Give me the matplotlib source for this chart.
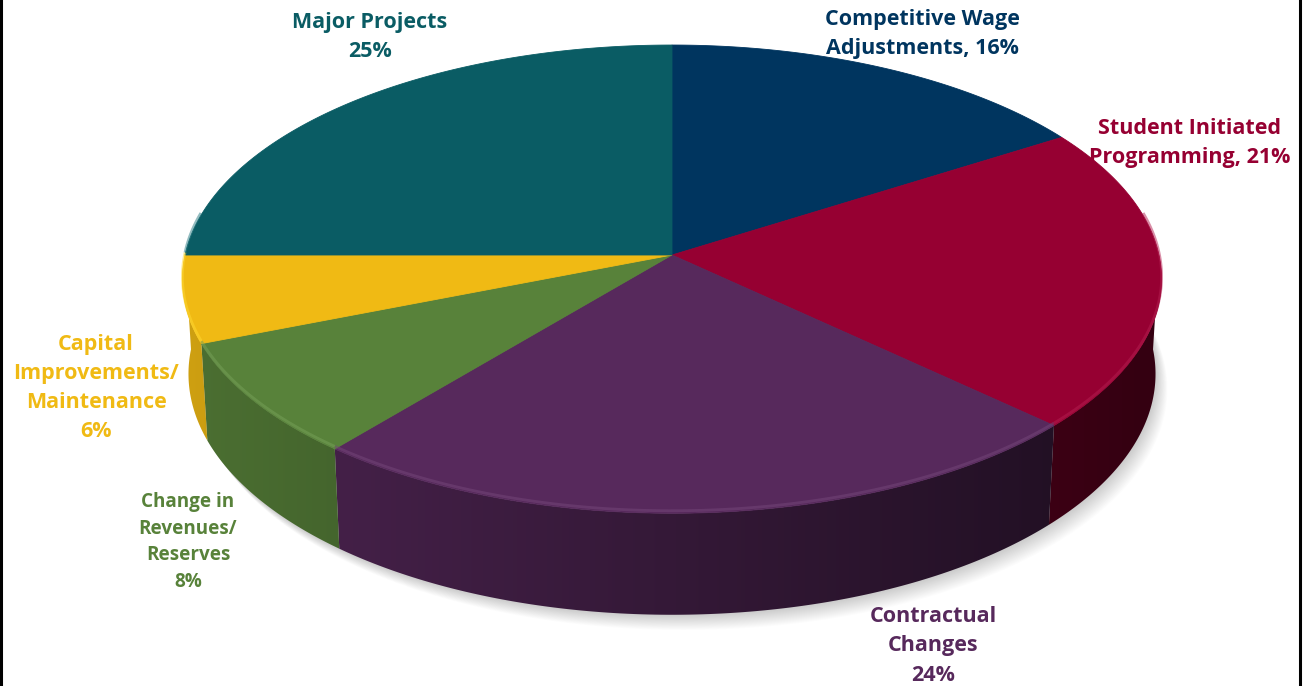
"""
3D pie chart - budget allocation breakdown
"""
import numpy as np
import matplotlib.pyplot as plt
from matplotlib.patches import Polygon
from matplotlib.colors import to_rgb

plt.rcParams['font.family'] = ['Open Sans', 'DejaVu Sans']

# data (clockwise from 12 o'clock)
labels = ['Competitive Wage\nAdjustments, 16%',
          'Student Initiated\nProgramming, 21%',
          'Contractual\nChanges\n24%',
          'Change in\nRevenues/\nReserves\n8%',
          'Capital\nImprovements/\nMaintenance\n6%',
          'Major Projects\n25%']
values = [16, 21, 24, 8, 6, 25]
colors = ['#00355F', '#960032', '#57295C', '#58823A', '#F0BA14', '#0A5C64']

# layout for the labels
label_xy = [(922, 34), (1190, 142.5), (933, 646), (188, 542), (96, 388), (370, 37)]
label_fs = [15.5, 15.5, 15.5, 13.6, 15.5, 15.5]
label_ls = [1.5, 1.5, 1.52, 1.44, 1.52, 1.52]

W, H = 1307, 686
cx, cy = 672, 255
elev = np.radians(28.4)
dist = 8.53
focal = 4154
thick = 0.223


def project(X, Y, Z):
    s, c = np.sin(elev), np.cos(elev)
    den = dist + Y * c - Z * s
    return cx + focal * X / den, cy - focal * (Y * s + Z * c) / den


def rim(t, z):
    t = np.radians(t)
    return project(np.sin(t), np.cos(t), z)


fig = plt.figure(figsize=(W / 100, H / 100), dpi=100)
ax = fig.add_axes([0, 0, 1, 1])
ax.set_xlim(0, W)
ax.set_ylim(H, 0)
ax.axis('off')

# soft shadow under the pie
tt = np.linspace(0, 360, 361)
sx, sy = rim(tt, -thick)
for k in range(1, 18):
    ax.add_patch(Polygon(np.column_stack([sx + k * 0.7, sy + k * 0.9]), closed=True,
                         facecolor='#000000', edgecolor='none', alpha=0.011, zorder=1))

angles = np.concatenate([[0], np.cumsum(values)]) / sum(values) * 360
vis_lo, vis_hi = 90.0, 270.0

# horizontal shading of the outer wall: lighter on the left, dark on the right
xpix = np.arange(W) + 0.5
Xn = np.clip((xpix - cx) / 487.0, -1, 1)
fac = np.clip(0.6 - 0.26 * Xn, 0.35, 0.95)

# outer walls (front part only)
for i, col in enumerate(colors):
    a1, a2 = max(angles[i], vis_lo), min(angles[i + 1], vis_hi)
    if a2 <= a1:
        continue
    ts = np.linspace(a1, a2, 120)
    xa, ya = rim(ts, 0)
    xb, yb = rim(ts[::-1], -thick)
    wall = Polygon(np.column_stack([np.r_[xa, xb], np.r_[ya, yb]]), closed=True,
                   facecolor='none', edgecolor='none')
    ax.add_patch(wall)
    rgb = np.array(to_rgb(col))
    grad = (fac[:, None] * rgb[None, :])[None, :, :]
    im = ax.imshow(grad, extent=(0, W, H, 0), aspect='auto', zorder=2,
                   interpolation='bilinear')
    im.set_clip_path(wall)

# top faces
for i, col in enumerate(colors):
    ts = np.linspace(angles[i], angles[i + 1], 200)
    xs, ys = rim(ts, 0)
    pts = np.column_stack([np.r_[cx, xs], np.r_[cy, ys]])
    ax.add_patch(Polygon(pts, closed=True, facecolor=col, edgecolor=col,
                         linewidth=0.6, zorder=3))
    # bevel highlight on the front rim
    a1, a2 = max(angles[i], vis_lo - 10), min(angles[i + 1], vis_hi + 10)
    if a2 > a1:
        th = np.linspace(a1, a2, 100)
        hx, hy = rim(th, 0)
        light = tuple(min(1, v + 0.12) for v in to_rgb(col))
        ax.plot(hx, hy - 2.5, color=light, lw=2.0, alpha=0.5, zorder=4,
                solid_capstyle='butt')

ax.set_xlim(0, W)
ax.set_ylim(H, 0)

# labels
for lab, (lx, ly), fs, ls, col in zip(labels, label_xy, label_fs, label_ls, colors):
    ax.text(lx, ly, lab, ha='center', va='center', fontsize=fs,
            fontweight='bold', color=col, linespacing=ls, zorder=5)

# frame lines left and right
ax.plot([1.2, 1.2], [0, H], color='black', lw=2.2, zorder=6)
ax.plot([1300, 1300], [0, H], color='black', lw=2.2, zorder=6)

fig.savefig('out.png', dpi=100)
